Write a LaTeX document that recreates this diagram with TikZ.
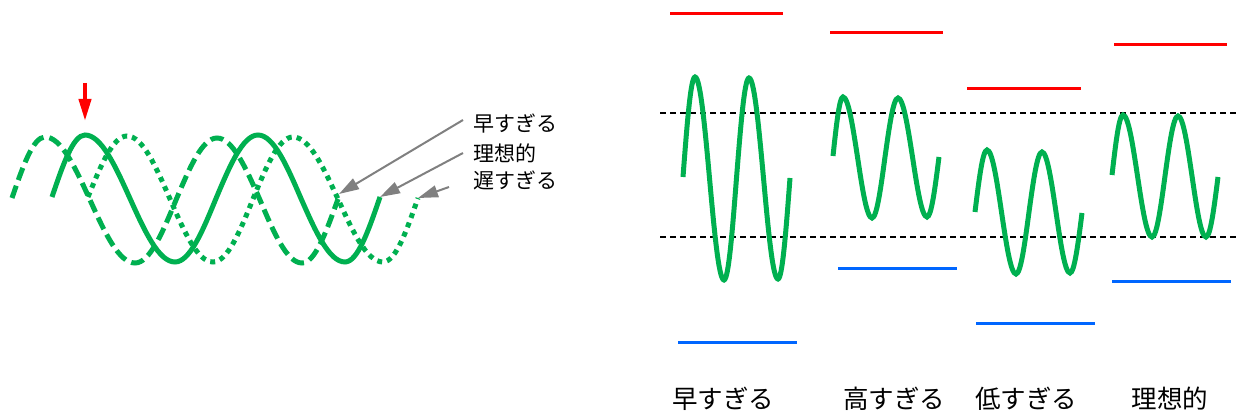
\documentclass[tikz,border=0pt]{standalone}
\usepackage{fontspec}
\newfontfamily\jp{Noto Sans CJK JP}
\usetikzlibrary{arrows.meta}
\definecolor{wgreen}{RGB}{0,176,80}
\definecolor{wred}{RGB}{255,0,0}
\definecolor{wblue}{RGB}{0,102,255}
\definecolor{wgray}{RGB}{128,128,128}
\begin{document}
\begin{tikzpicture}[x=1pt,y=-1pt,
  wave/.style={wgreen,line width=5pt},
  wavedash/.style={wave,dash pattern=on 13pt off 6pt},
  wavedot/.style={wave,dash pattern=on 5pt off 5pt},
  hiline/.style={wred,line width=3pt},
  loline/.style={wblue,line width=3pt},
  refline/.style={black,line width=1.2pt,dash pattern=on 6pt off 4pt},
  pointer/.style={wgray,line width=2pt,-{Triangle[length=20pt,width=12pt]}},
  lbl/.style={font=\jp\fontsize{21}{24}\selectfont,anchor=west,inner xsep=10pt,inner ysep=0pt},
  caption/.style={font=\jp\fontsize{25.5}{28}\selectfont,inner sep=0pt}]
\useasboundingbox (0,0) rectangle (1237,414);
% ---------- left: three phase-shifted waves ----------
\draw[wavedash] (12,198) sin (45,137) cos (90,200) sin (135,263) cos (176,200)
  sin (217,138) cos (260,200) sin (302,263) cos (338,199);
\draw[wave] (52,197) sin (85,135) cos (130,198.5) sin (175,262) cos (216,198.5)
  sin (258,135) cos (301,198.5) sin (345,262) cos (380,197);
\draw[wavedot] (88,197) sin (127,136) cos (170,199) sin (213,262) cos (253,199)
  sin (293,137) cos (338,199) sin (383,262) cos (418,198);
% red marker arrow
\coordinate (rs) at (85,83);
\coordinate (rt) at (85,121);
\draw[wred,line width=4pt,-{Triangle[length=22pt,width=12pt]}] (rs) -- (rt);
% labels and pointers
\node[lbl] (l1) at (463,124) {早すぎる};
\node[lbl] (l2) at (463,153) {理想的};
\node[lbl] (l3) at (463,180) {遅すぎる};
\coordinate (t1) at (339,194);
\coordinate (t2) at (380,197);
\coordinate (t3) at (418,198);
\draw[pointer] ([yshift=4pt]l1.west) -- (t1);
\draw[pointer] (l2.west) -- (t2);
\draw[pointer] ([shift={(-14pt,-7pt)}]l3.west) -- (t3);
% ---------- right: four amplitude cases ----------
\draw[refline] (660,113) -- (1237,113);
\draw[refline] (660,237) -- (1237,237);
% panel 1
\draw[hiline] (670,14) -- (783,14);
\draw[loline] (678,342) -- (797,342);
\draw[wave] (683,177) sin (695,77) cos (709.5,178) sin (724,280) cos (736.5,178)
  sin (749,78) cos (763.5,178) sin (778,279) cos (790,178);
\node[caption] (c1) at (723,399) {早すぎる};
% panel 2
\draw[hiline] (830,33) -- (943,33);
\draw[loline] (838,268) -- (957,268);
\draw[wave] (833,156) sin (843,97) cos (857.5,157) sin (872,218) cos (885,157)
  sin (898,98) cos (912.5,157) sin (927,217) cos (939,157);
\node[caption] (c2) at (894,399) {高すぎる};
% panel 3
\draw[hiline] (967,89) -- (1081,89);
\draw[loline] (976,323) -- (1095,323);
\draw[wave] (975,212) sin (987,150) cos (1001.5,212) sin (1016,274) cos (1029,212)
  sin (1042,152) cos (1056,212) sin (1070,273) cos (1082,213);
\node[caption] (c3) at (1026,399) {低すぎる};
% panel 4
\draw[hiline] (1114,45) -- (1227,45);
\draw[loline] (1112,281) -- (1231,281);
\draw[wave] (1112,175) sin (1123,115) cos (1137.5,176) sin (1152,237) cos (1165,176)
  sin (1178,116) cos (1192,176) sin (1206,237) cos (1218,177);
\node[caption] (c4) at (1170,399) {理想的};
\end{tikzpicture}
\end{document}
